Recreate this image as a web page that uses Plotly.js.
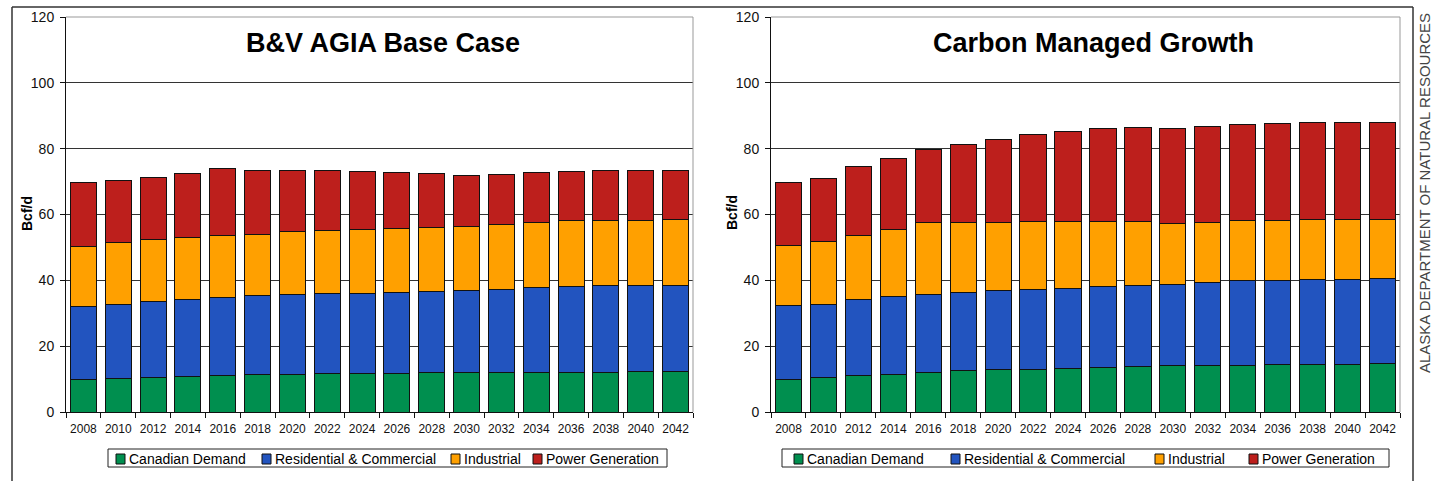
<!DOCTYPE html>
<html><head><meta charset="utf-8">
<script src="https://cdn.plot.ly/plotly-3.0.1.min.js"></script>
<style>html,body{margin:0;padding:0;background:#fff}#chart{width:1439px;height:481px}</style>
</head><body><div id="chart"></div>
<script>
// ---- data ----
const years = ['2008','2010','2012','2014','2016','2018','2020','2022','2024','2026','2028','2030','2032','2034','2036','2038','2040','2042'];
const seriesNames = ['Canadian Demand','Residential & Commercial','Industrial','Power Generation'];
const seriesColors = ['#008f4f','#2254bf','#ffa000','#bd1f1c'];
const panelTitles = ['B&V AGIA Base Case','Carbon Managed Growth'];
const yTitle = 'Bcf/d';
const sideText = 'ALASKA DEPARTMENT OF NATURAL RESOURCES';

const baseCanadian   = [9.9,10.2,10.5,10.8,11.1,11.5,11.5,11.6,11.7,11.8,11.9,12.0,12.0,12.1,12.1,12.1,12.2,12.4];
const baseResCom     = [22.3,22.5,23.0,23.5,23.8,23.8,24.1,24.3,24.4,24.4,24.7,24.9,25.3,25.6,26.0,26.2,26.1,26.0];
const baseIndustrial = [18.1,18.8,19.0,18.8,18.8,18.7,19.1,19.3,19.3,19.5,19.5,19.6,19.7,19.9,20.0,20.0,20.0,20.1];
const basePower      = [19.4,18.9,18.8,19.5,20.3,19.5,18.7,18.2,17.6,17.1,16.5,15.4,15.3,15.3,15.1,15.2,15.2,14.9];

const cmgCanadian    = [9.9,10.4,11.0,11.5,12.1,12.5,12.8,13.0,13.2,13.4,13.7,14.0,14.1,14.2,14.3,14.3,14.5,14.6];
const cmgResCom      = [22.5,22.4,23.1,23.5,23.7,23.8,24.0,24.2,24.3,24.6,24.7,24.7,25.1,25.6,25.8,26.1,25.9,26.0];
const cmgIndustrial  = [18.2,19.1,19.5,20.4,21.7,21.4,20.9,20.8,20.5,20.0,19.4,18.5,18.4,18.3,18.2,18.2,18.1,17.9];
const cmgPower       = [19.1,18.9,21.1,21.7,22.4,23.7,25.1,26.2,27.2,28.0,28.7,29.0,29.1,29.1,29.2,29.2,29.3,29.3];

const yTicks = [0,20,40,60,80,100,120];

// ---- layout helpers (pixels) ----
const W = 1439, H = 481;
const px = x => x / W;
const py = y => 1 - y / H;
const plotTop = 17, plotBottom = 412;
const panels = [
  {series:[baseCanadian,baseResCom,baseIndustrial,basePower], left:66, right:693, titleX:383,
   legendBox:[108,667], legendSq:[116,262,451,533]},
  {series:[cmgCanadian,cmgResCom,cmgIndustrial,cmgPower], left:771, right:1400, titleX:1093,
   legendBox:[782,1389], legendSq:[794,951,1155,1249]}
];

const traces = [];
const shapes = [];
const annotations = [];
const layout = {
  width: W, height: H, margin:{l:0,r:0,t:0,b:0},
  paper_bgcolor:'#fff', plot_bgcolor:'#fff',
  barmode:'stack', bargap:0.25, showlegend:false,
  font:{family:'Liberation Sans, Arial, sans-serif', color:'#111'}
};

panels.forEach((p, i) => {
  const xa = i === 0 ? 'x' : 'x2';
  const ya = i === 0 ? 'y' : 'y2';
  p.series.forEach((vals, k) => {
    traces.push({type:'bar', x: years, y: vals, name: seriesNames[k], xaxis: xa, yaxis: ya,
      marker:{color: seriesColors[k], line:{color:'#111', width:1}}, hoverinfo:'x+y+name'});
  });
  layout[i === 0 ? 'xaxis' : 'xaxis2'] = {
    domain:[px(p.left), px(p.right)], anchor: ya, type:'category',
    tickson:'boundaries', ticks:'outside', ticklen:5, tickcolor:'#111', tickwidth:1,
    showline:true, linecolor:'#111', linewidth:1, showgrid:false, tickangle:0,
    tickfont:{size:12, color:'#111'}, ticklabelstandoff:6, fixedrange:true
  };
  layout[i === 0 ? 'yaxis' : 'yaxis2'] = {
    domain:[py(plotBottom), py(plotTop)], anchor: xa, range:[0,120],
    tickvals: yTicks, ticktext: yTicks.map(String),
    ticks:'outside', ticklen:5, tickcolor:'#111', tickwidth:1,
    showline:true, linecolor:'#111', linewidth:1,
    showgrid:true, gridcolor:'#333', gridwidth:1, zeroline:false,
    tickfont:{size:14, color:'#111'}, ticklabelstandoff:3, fixedrange:true
  };
  // top/right gray plot border
  shapes.push({type:'line', xref:'paper', yref:'paper', x0:px(p.left), x1:px(p.right), y0:py(plotTop), y1:py(plotTop), line:{color:'#999', width:1}});
  shapes.push({type:'line', xref:'paper', yref:'paper', x0:px(p.right), x1:px(p.right), y0:py(plotTop), y1:py(plotBottom), line:{color:'#999', width:1}});
  // title
  annotations.push({xref:'paper', yref:'paper', x:px(p.titleX), y:py(43), text:'<b>'+panelTitles[i]+'</b>',
    showarrow:false, xanchor:'center', yanchor:'middle', font:{size:27, color:'#000'}});
  // y title
  annotations.push({xref:'paper', yref:'paper', x:px(p.left - 39), y:py(213), text:'<b>'+yTitle+'</b>', textangle:-90,
    showarrow:false, xanchor:'center', yanchor:'middle', font:{size:14, color:'#000'}});
  // legend
  shapes.push({type:'rect', xref:'paper', yref:'paper', x0:px(p.legendBox[0]), x1:px(p.legendBox[1]), y0:py(449), y1:py(467), line:{color:'#222', width:1}, fillcolor:'rgba(0,0,0,0)'});
  seriesNames.forEach((nm, k) => {
    const sx = p.legendSq[k];
    shapes.push({type:'rect', xref:'paper', yref:'paper', x0:px(sx), x1:px(sx+9), y0:py(454), y1:py(464), line:{color:'#111', width:1}, fillcolor:seriesColors[k]});
    annotations.push({xref:'paper', yref:'paper', x:px(sx+11), y:py(459), text:nm, showarrow:false,
      xanchor:'left', yanchor:'middle', font:{size:14, color:'#000'}});
  });
});

// outer frame
shapes.push({type:'line', xref:'paper', yref:'paper', x0:px(12), x1:px(1413), y0:py(7), y1:py(7), line:{color:'#333', width:1.5}});
shapes.push({type:'line', xref:'paper', yref:'paper', x0:px(12), x1:px(12), y0:py(7), y1:py(481), line:{color:'#333', width:1.5}});
shapes.push({type:'line', xref:'paper', yref:'paper', x0:px(1413), x1:px(1413), y0:py(7), y1:py(481), line:{color:'#333', width:1.5}});
// side text
annotations.push({xref:'paper', yref:'paper', x:px(1425), y:py(193), text:sideText, textangle:-90, showarrow:false,
  xanchor:'center', yanchor:'middle', font:{size:15, color:'#444'}});

layout.shapes = shapes;
layout.annotations = annotations;
Plotly.newPlot('chart', traces, layout, {displayModeBar:false, staticPlot:true});
</script></body></html>
